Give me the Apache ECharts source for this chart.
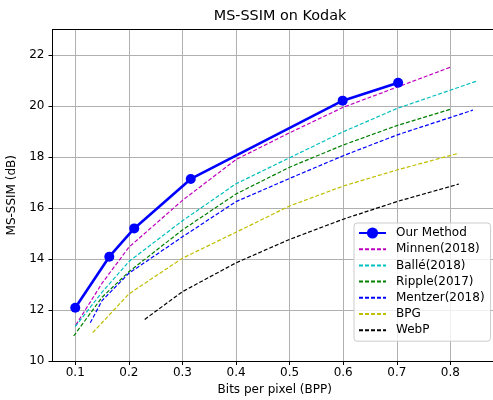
<!DOCTYPE html>
<html>
<head>
<meta charset="utf-8">
<script src="https://cdn.jsdelivr.net/npm/echarts@6/dist/echarts.min.js"></script>
<style>html,body{margin:0;padding:0;background:#fff}#c{width:493px;height:400px}</style>
</head>
<body>
<div id="c"></div>
<script>
var xTicks = [0.1, 0.2, 0.3, 0.4, 0.5, 0.6, 0.7, 0.8];
var seriesNames = ['Our Method', 'Minnen(2018)', 'Ballé(2018)', 'Ripple(2017)', 'Mentzer(2018)', 'BPG', 'WebP'];

var ourX = [0.1, 0.1635, 0.21, 0.3155, 0.599, 0.7025];
var ourY = [12.09, 14.09, 15.20, 17.14, 20.21, 20.91];

var minnenX = [0.101, 0.15, 0.2, 0.3, 0.4, 0.5, 0.6, 0.8];
var minnenY = [11.41, 13.05, 14.46, 16.3, 17.9, 18.95, 19.95, 21.52];

var balleX = [0.1, 0.15, 0.2, 0.3, 0.4, 0.5, 0.6, 0.7, 0.851];
var balleY = [11.35, 12.7, 13.9, 15.5, 16.95, 17.97, 18.99, 19.9, 20.99];

var rippleX = [0.097, 0.15, 0.2, 0.3, 0.4, 0.5, 0.6, 0.7, 0.8];
var rippleY = [10.98, 12.5, 13.5, 15.14, 16.55, 17.6, 18.47, 19.23, 19.87];

var mentzerX = [0.128, 0.15, 0.2, 0.3, 0.4, 0.5, 0.6, 0.7, 0.842];
var mentzerY = [11.5, 12.37, 13.44, 14.87, 16.25, 17.16, 18.05, 18.86, 19.84];

var bpgX = [0.1325, 0.2, 0.3, 0.4, 0.5, 0.6, 0.7, 0.816];
var bpgY = [11.11, 12.63, 14.03, 15.05, 16.08, 16.86, 17.49, 18.15];

var webpX = [0.2296, 0.3, 0.4, 0.5, 0.6, 0.7, 0.816];
var webpY = [11.63, 12.72, 13.85, 14.77, 15.56, 16.25, 16.94];

function pairs(xs, ys) { return xs.map(function (x, i) { return [x, ys[i]]; }); }

var FONT = 'DejaVu Sans';
var dashColors = ['#bf00bf', '#00bfbf', '#008000', '#0000ff', '#bfbf00', '#000000'];
var dashData = [
  pairs(minnenX, minnenY), pairs(balleX, balleY), pairs(rippleX, rippleY),
  pairs(mentzerX, mentzerY), pairs(bpgX, bpgY), pairs(webpX, webpY)
];

var series = [{
  name: seriesNames[0], type: 'line', data: pairs(ourX, ourY),
  symbol: 'circle', symbolSize: 10, showSymbol: true,
  lineStyle: { color: '#0000ff', width: 2.6 },
  itemStyle: { color: '#0000ff' }, z: 10
}];
dashData.forEach(function (d, i) {
  series.push({
    name: seriesNames[i + 1], type: 'line', data: d, symbol: 'none',
    lineStyle: { color: dashColors[i], width: 1.2, type: [4, 2] },
    itemStyle: { color: dashColors[i], opacity: 0 }, z: 5
  });
});

var legendData = seriesNames.map(function (n, i) {
  if (i === 0) return { name: n };
  return { name: n, itemStyle: { opacity: 0, borderWidth: 0 } };
});

var axisCommon = { type: 'value', min: 0.0575, max: 0.887 };

var chart = echarts.init(document.getElementById('c'), null, { renderer: 'canvas' });
chart.setOption({
  animation: false,
  backgroundColor: '#fff',
  textStyle: { fontFamily: FONT },
  title: {
    text: 'MS-SSIM on Kodak', left: 275, top: 4, textAlign: 'center',
    textStyle: { fontFamily: FONT, fontSize: 14.4, fontWeight: 'normal', color: '#000' }
  },
  grid: { left: 52.5, top: 29.5, right: -4, bottom: 39, show: false, containLabel: false, outerBoundsMode: 'none' },
  legend: {
    orient: 'vertical', left: 354, top: 223,
    padding: [4, 6, 5, 4], itemWidth: 27, itemHeight: 14, itemGap: 4.2,
    backgroundColor: 'rgba(255,255,255,0.8)', borderColor: '#cccccc', borderWidth: 1, borderRadius: 3,
    textStyle: { fontFamily: FONT, fontSize: 12, color: '#000', padding: [0, 0, 0, 5] },
    data: legendData
  },
  xAxis: [Object.assign({}, axisCommon, {
    name: 'Bits per pixel (BPP)', nameLocation: 'middle', nameGap: 23,
    nameTextStyle: { fontFamily: FONT, fontSize: 12, color: '#000' },
    axisLine: { show: true, onZero: false, lineStyle: { color: '#000', width: 1 } },
    axisTick: { show: true, inside: false, length: 4, customValues: xTicks, lineStyle: { color: '#000' } },
    axisLabel: { customValues: xTicks, margin: 6, fontFamily: FONT, fontSize: 12, color: '#000',
      formatter: function (v) { return v.toFixed(1); } },
    splitLine: { show: true, customValues: xTicks, lineStyle: { color: '#b0b0b0', width: 1 } }
  }), Object.assign({}, axisCommon, {
    position: 'top',
    axisLine: { show: true, onZero: false, lineStyle: { color: '#000', width: 1 } },
    axisTick: { show: false }, axisLabel: { show: false }, splitLine: { show: false }
  })],
  yAxis: {
    type: 'value', min: 10, max: 23, interval: 2,
    name: 'MS-SSIM (dB)', nameLocation: 'middle', nameGap: 25, nameRotate: 90,
    nameTextStyle: { fontFamily: FONT, fontSize: 12, color: '#000' },
    axisLine: { show: true, lineStyle: { color: '#000', width: 1 } },
    axisTick: { show: true, inside: false, length: 4, lineStyle: { color: '#000' } },
    axisLabel: { margin: 8, fontFamily: FONT, fontSize: 12, color: '#000', showMaxLabel: false },
    splitLine: { show: true, lineStyle: { color: '#b0b0b0', width: 1 } }
  },
  series: series
});
</script>
</body>
</html>
